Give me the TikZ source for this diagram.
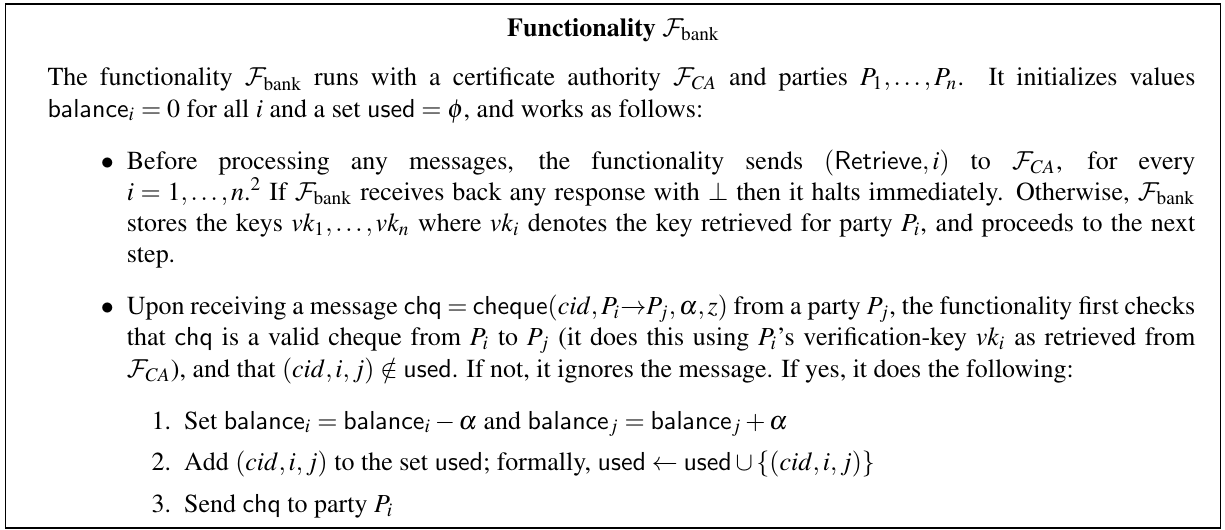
\documentclass[tikz,border=0pt]{standalone}
\usepackage{amsmath,amssymb}
\usepackage{mathptmx}
\usepackage[T1]{fontenc}
\usepackage{tikz}
\usetikzlibrary{positioning}

\DeclareMathAlphabet{\mathcal}{OMS}{cmsy}{m}{n}
\newcommand{\Fbank}{\mathcal{F}_{\mathrm{bank}}}
\newcommand{\Fca}{\mathcal{F}_{CA}}

\begin{document}
\begin{tikzpicture}[x=1pt, y=1pt,
    frame/.style = {draw, line width=0.6pt, inner sep=0pt, anchor=north west,
                    minimum width=467.3pt, minimum height=201.5pt},
    head/.style = {inner sep=0pt, font=\fontsize{10}{12}\selectfont},
    body/.style = {inner sep=0pt, anchor=north west, font=\fontsize{10}{12}\selectfont}]
    \useasboundingbox (0,0) rectangle (471.2,-203.5);

    \node [frame] (box) at (1.9,-1.2) {};
    \node [head] (title) at (236,-11.5) {\textbf{Functionality} $\Fbank$};

    \node [body] (text) at (18.1,-26) {%
      \begin{minipage}{441.5pt}
        \setlength{\leftmargini}{30.5pt}\setlength{\leftmarginii}{22pt}%
        \renewcommand{\labelitemi}{$\bullet$}%
        The functionality $\Fbank$ runs with a certificate authority $\Fca$ and parties
        $P_1,\ldots,P_n$.  It initializes values $\mathsf{balance}_i=0$ for all $i$ and
        a set $\mathsf{used}=\phi$, and works as follows:
        \begin{itemize}
          \item Before processing any messages, the functionality sends $(\mathsf{Retrieve},i)$
            to $\Fca$, for every\linebreak $i=1,\ldots,n$.$^2$ If $\Fbank$ receives back any response
            with $\perp$ then it halts immediately. Otherwise, $\Fbank$ stores the keys
            $vk_1,\ldots,vk_n$ where $vk_i$ denotes the key retrieved for party $P_i$, and
            proceeds to the next step.
          \item Upon receiving a message
            $\mathsf{chq}=\mathsf{cheque}(cid,P_i{\to}P_j,\alpha,z)$
            from a party $P_j$, the functionality first checks that $\mathsf{chq}$ is a valid
            cheque from $P_i$ to $P_j$ (it does this using $P_i$'s verification-key $vk_i$ as
            retrieved from $\Fca$), and that $(cid,i,j)\notin\mathsf{used}$. If not, it ignores
            the message. If yes, it does the following:
            \begin{enumerate}
              \item Set $\mathsf{balance}_i=\mathsf{balance}_i-\alpha$ and
                $\mathsf{balance}_j=\mathsf{balance}_j+\alpha$
              \item Add $(cid,i,j)$ to the set $\mathsf{used}$; formally,
                $\mathsf{used}\leftarrow\mathsf{used}\cup\{(cid,i,j)\}$
              \item Send $\mathsf{chq}$ to party $P_i$
            \end{enumerate}
        \end{itemize}
      \end{minipage}};
\end{tikzpicture}
\end{document}
